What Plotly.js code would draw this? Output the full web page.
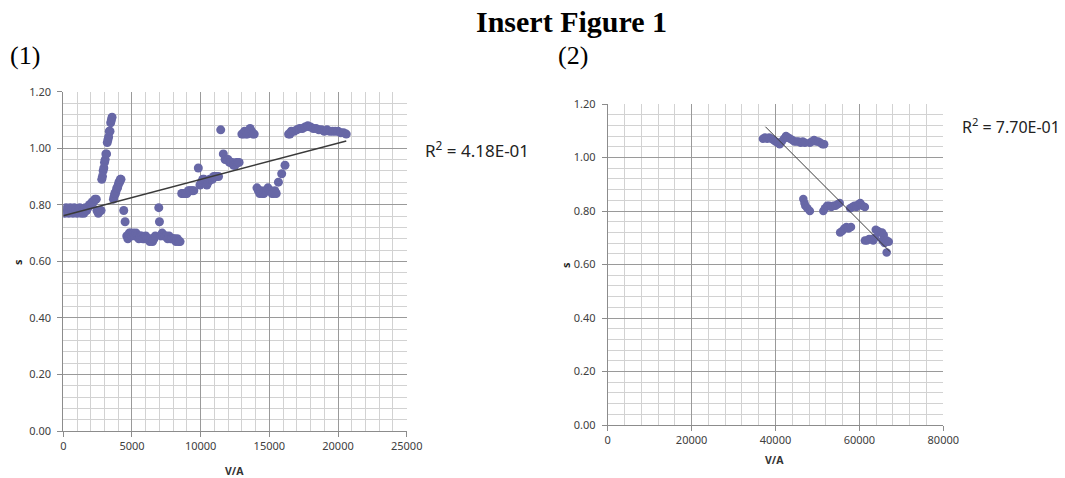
<!DOCTYPE html>
<html>
<head>
<meta charset="utf-8">
<script src="https://cdn.plot.ly/plotly-3.0.1.min.js"></script>
<style>
html,body{margin:0;padding:0;background:#fff;}
#chart{width:1065px;height:478px;}
</style>
</head>
<body>
<div id="chart"></div>
<script>
// ---- Panel (1) data ----
const leftX = [
  0,100,200,300,400,500,600,700,800,900,1000,1100,1200,1300,1400,1500,1600,1700,1800,1900,
  2000,2100,2200,2300,2400,2450,2550,2650,2750,
  2800,2850,2900,2950,3000,3050,3100,3150,3200,3250,3300,3350,3400,3450,3500,3550,
  3650,3700,3750,3800,3850,3900,3950,4000,4050,4100,4150,4200,
  4400,4500,
  4620,4700,4800,4900,5000,5100,5200,5300,5400,5500,5600,5700,5800,5900,6000,6100,6200,6300,6400,6500,6600,6700,
  6950,7000,
  7100,7200,7300,7400,7500,7600,7700,7800,7900,8000,8100,8200,8300,8400,8500,
  8620,8700,8800,8900,9000,9100,9200,9300,9400,9500,
  9830,
  9950,10050,10150,10250,10350,10450,10550,10650,10750,10850,10950,11050,11150,11300,
  11460,
  11650,11780,11900,12000,12100,12200,12300,12400,12500,12600,12700,12800,
  13000,13100,13200,13300,13400,13500,13600,13700,13800,13900,
  14100,14200,14300,14400,14500,14600,14700,14800,14900,15000,15100,15200,15300,15400,15500,
  15660,15900,16140,
  16400,16500,16600,16800,17000,17200,17400,17600,17800,18000,18200,18400,18600,18800,19000,19200,19400,19600,19800,20000,20200,20400,20600
];
const leftY = [
  0.78,0.77,0.79,0.78,0.77,0.79,0.78,0.77,0.79,0.78,0.77,0.78,0.79,0.77,0.78,0.77,0.79,0.78,0.79,0.80,
  0.80,0.81,0.81,0.82,0.82,0.78,0.77,0.78,0.78,
  0.89,0.90,0.92,0.93,0.95,0.96,0.98,0.98,1.02,1.03,1.04,1.06,1.06,1.09,1.10,1.11,
  0.82,0.83,0.84,0.84,0.85,0.86,0.86,0.87,0.88,0.88,0.89,0.89,
  0.78,0.74,
  0.69,0.68,0.70,0.70,0.69,0.70,0.69,0.70,0.69,0.68,0.69,0.69,0.68,0.68,0.69,0.68,0.68,0.67,0.68,0.67,0.68,0.69,
  0.79,0.74,
  0.69,0.70,0.69,0.69,0.69,0.68,0.69,0.68,0.68,0.68,0.68,0.67,0.68,0.67,0.67,
  0.84,0.84,0.84,0.84,0.84,0.85,0.85,0.85,0.85,0.85,
  0.93,
  0.87,0.88,0.89,0.89,0.88,0.87,0.88,0.89,0.89,0.89,0.90,0.90,0.90,0.90,
  1.065,
  0.98,0.96,0.96,0.96,0.95,0.95,0.95,0.94,0.94,0.95,0.95,0.95,
  1.05,1.05,1.06,1.05,1.05,1.06,1.07,1.06,1.05,1.05,
  0.86,0.85,0.84,0.85,0.84,0.84,0.85,0.85,0.86,0.85,0.85,0.84,0.84,0.85,0.84,
  0.88,0.91,0.94,
  1.05,1.05,1.06,1.06,1.065,1.07,1.07,1.075,1.08,1.075,1.07,1.07,1.065,1.065,1.06,1.065,1.06,1.06,1.06,1.06,1.055,1.055,1.05
];
const leftTrendX = [0, 20600];
const leftTrendY = [0.761, 1.026];
const leftR2 = "4.18E-01";

// ---- Panel (2) data ----
const rightX = [
  37000,37500,38000,38500,39000,39500,40000,40500,41000,41500,42000,42500,43000,43500,44000,44500,45000,45500,46000,46500,47000,
  48200,48700,49200,49700,50200,50700,51200,51600,
  46630,46900,47100,47600,48200,
  51400,51800,52300,52800,53300,53800,54300,54800,55300,
  55400,55900,56400,56900,57400,58000,
  57800,58300,58800,59300,59800,60200,60700,61300,
  61300,61800,62300,62800,63300,63700,
  63900,64400,64900,65400,65800,
  65500,66000,66500,67000,
  66500
];
const rightY = [
  1.07,1.075,1.07,1.075,1.07,1.065,1.06,1.055,1.05,1.06,1.07,1.08,1.075,1.07,1.065,1.06,1.06,1.06,1.055,1.06,1.055,
  1.055,1.06,1.065,1.06,1.06,1.055,1.05,1.05,
  0.845,0.83,0.82,0.81,0.80,
  0.80,0.81,0.82,0.82,0.815,0.82,0.82,0.825,0.83,
  0.72,0.725,0.735,0.74,0.735,0.74,
  0.81,0.815,0.82,0.815,0.825,0.83,0.82,0.815,
  0.69,0.69,0.695,0.695,0.69,0.70,
  0.73,0.725,0.72,0.72,0.71,
  0.69,0.68,0.69,0.685,
  0.645
];
const rightTrendX = [37600, 67300];
const rightTrendY = [1.115, 0.648];
const rightR2 = "7.70E-01";

// ---- styling ----
const W = 1065, H = 478;
const fx = p => p / W;
const fy = p => 1 - p / H;
const markerColor = "#6767a6";
const tickFont = {family: "Noto Sans, Open Sans, sans-serif", size: 11, color: "#404040"};

function axisX(domain, range, dtick, minorDtick, anchor) {
  return {
    domain: domain, range: range, anchor: anchor,
    dtick: dtick, tick0: 0, showgrid: true, gridcolor: "#9a9a9a", gridwidth: 1,
    minor: {dtick: minorDtick, tick0: 0, showgrid: true, gridcolor: "#d2d2d2", gridwidth: 1},
    zeroline: false, showline: true, linecolor: "#8c8c8c", linewidth: 1,
    ticks: "outside", ticklen: 5, tickcolor: "#8c8c8c",
    tickfont: tickFont, tickformat: "d", fixedrange: true
  };
}
function axisY(domain, anchor) {
  return {
    domain: domain, range: [0, 1.2], anchor: anchor,
    dtick: 0.2, tick0: 0, showgrid: true, gridcolor: "#9a9a9a", gridwidth: 1,
    minor: {dtick: 0.04, tick0: 0, showgrid: true, gridcolor: "#d2d2d2", gridwidth: 1},
    zeroline: false, showline: true, linecolor: "#8c8c8c", linewidth: 1,
    ticks: "outside", ticklen: 5, tickcolor: "#8c8c8c", ticklabelstandoff: 4,
    tickfont: tickFont, tickformat: ".2f", fixedrange: true
  };
}

const traces = [
  {x: leftX, y: leftY, type: "scatter", mode: "markers", xaxis: "x", yaxis: "y",
   marker: {color: markerColor, size: 9, line: {width: 0}}, hoverinfo: "skip"},
  {x: leftTrendX, y: leftTrendY, type: "scatter", mode: "lines", xaxis: "x", yaxis: "y",
   line: {color: "#3a3a3a", width: 1.5}, hoverinfo: "skip"},
  {x: rightX, y: rightY, type: "scatter", mode: "markers", xaxis: "x2", yaxis: "y2",
   marker: {color: markerColor, size: 8.5, line: {width: 0}}, hoverinfo: "skip"},
  {x: rightTrendX, y: rightTrendY, type: "scatter", mode: "lines", xaxis: "x2", yaxis: "y2",
   line: {color: "#3a3a3a", width: 1}, hoverinfo: "skip"}
];

const serif = "Liberation Serif, Times New Roman, serif";
const sans = "Noto Sans, Open Sans, sans-serif";
const layout = {
  width: W, height: H,
  margin: {l: 0, r: 0, t: 0, b: 0},
  paper_bgcolor: "#ffffff", plot_bgcolor: "#ffffff",
  showlegend: false,
  xaxis: axisX([fx(63.3), fx(406.7)], [0, 25000], 5000, 1000, "y"),
  yaxis: axisY([fy(431), fy(91.7)], "x"),
  xaxis2: axisX([fx(607.7), fx(943.3)], [0, 80000], 20000, 4000, "y2"),
  yaxis2: axisY([fy(425), fy(104)], "x2"),
  annotations: [
    {text: "<b>Insert Figure 1</b>", xref: "paper", yref: "paper", x: fx(571), y: fy(22),
     xanchor: "center", yanchor: "middle", showarrow: false, font: {family: serif, size: 30, color: "#000"}},
    {text: "(1)", xref: "paper", yref: "paper", x: fx(8), y: fy(56),
     xanchor: "left", yanchor: "middle", showarrow: false, font: {family: serif, size: 26, color: "#000"}},
    {text: "(2)", xref: "paper", yref: "paper", x: fx(556), y: fy(56),
     xanchor: "left", yanchor: "middle", showarrow: false, font: {family: serif, size: 26, color: "#000"}},
    {text: "R<sup>2</sup> = " + leftR2, xref: "paper", yref: "paper", x: fx(423), y: fy(149),
     xanchor: "left", yanchor: "middle", showarrow: false, font: {family: sans, size: 17, color: "#222"}},
    {text: "R<sup>2</sup> = " + rightR2, xref: "paper", yref: "paper", x: fx(960), y: fy(126),
     xanchor: "left", yanchor: "middle", showarrow: false, font: {family: sans, size: 16, color: "#222"}},
    {text: "<b>V/A</b>", xref: "paper", yref: "paper", x: fx(234), y: fy(471),
     xanchor: "center", yanchor: "middle", showarrow: false, font: {family: sans, size: 10.5, color: "#333"}},
    {text: "<b>V/A</b>", xref: "paper", yref: "paper", x: fx(774), y: fy(460),
     xanchor: "center", yanchor: "middle", showarrow: false, font: {family: sans, size: 10.5, color: "#333"}},
    {text: "<b>s</b>", xref: "paper", yref: "paper", x: fx(17), y: fy(262), textangle: -90,
     xanchor: "center", yanchor: "middle", showarrow: false, font: {family: sans, size: 11, color: "#222"}},
    {text: "<b>s</b>", xref: "paper", yref: "paper", x: fx(565), y: fy(265), textangle: -90,
     xanchor: "center", yanchor: "middle", showarrow: false, font: {family: sans, size: 11, color: "#222"}}
  ]
};

Plotly.newPlot("chart", traces, layout, {staticPlot: true, displayModeBar: false});
</script>
</body>
</html>
